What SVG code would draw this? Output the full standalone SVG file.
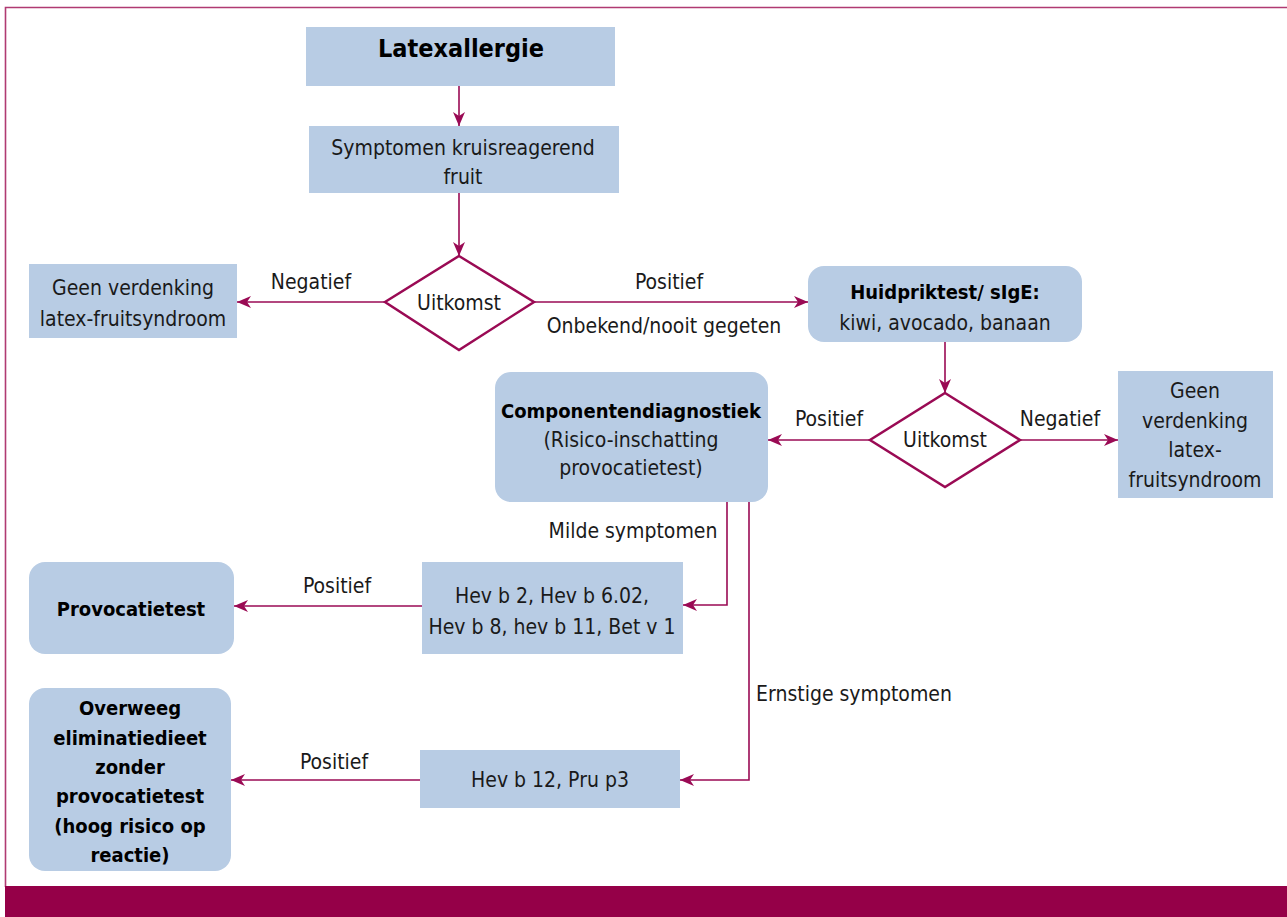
<svg xmlns="http://www.w3.org/2000/svg" width="1287" height="917" viewBox="0 0 1287 917">
<defs>
<marker id="ah" viewBox="0 0 14 12" refX="14" refY="6" markerWidth="14" markerHeight="12" orient="auto" markerUnits="userSpaceOnUse">
<path d="M0,0 L14,6 L0,12 L4,6 z" fill="#9A0A54"/>
</marker>
<style>
.box{fill:#B8CCE4;}
.dia{fill:#fff;stroke:#9A0A54;stroke-width:2.5;}
.t{font-family:"Liberation Sans Narrow","DejaVu Sans Condensed","Liberation Sans",sans-serif;font-size:21px;fill:#1a1a1a;text-anchor:middle;}
.b{font-weight:bold;fill:#000;font-size:20px;}
.l{fill:none;stroke:#9A0A54;stroke-width:1.6;marker-end:url(#ah);}
.lbl{font-family:"Liberation Sans Narrow","DejaVu Sans Condensed","Liberation Sans",sans-serif;font-size:21px;fill:#1a1a1a;text-anchor:middle;}
</style>
</defs>
<rect x="0" y="0" width="1287" height="917" fill="#fff"/>
<path d="M5.5,887 V7.5 H1287" fill="none" stroke="#B03A72" stroke-width="1.6"/>
<rect x="5" y="886" width="1282" height="31" fill="#950048"/>

<g id="connectors">
<path class="l" d="M459,86 V126"/>
<path class="l" d="M459,193 V256"/>
<path class="l" d="M385,302 H237"/>
<path class="l" d="M534,302 H808"/>
<path class="l" d="M945,342 V393"/>
<path class="l" d="M870,440 H768"/>
<path class="l" d="M1020,440 H1118"/>
<path class="l" d="M727,502 V605 H683"/>
<path class="l" d="M749,502 V780 H680"/>
<path class="l" d="M422,606 H234"/>
<path class="l" d="M420,780 H231"/>
<text class="lbl" x="311" y="289">Negatief</text>
<text class="lbl" x="669" y="289">Positief</text>
<text class="lbl" x="664" y="333">Onbekend/nooit gegeten</text>
<text class="lbl" x="829" y="426">Positief</text>
<text class="lbl" x="1060" y="426">Negatief</text>
<text class="lbl" x="633" y="538">Milde symptomen</text>
<text class="lbl" x="854" y="701">Ernstige symptomen</text>
<text class="lbl" x="337" y="593">Positief</text>
<text class="lbl" x="334" y="769">Positief</text>
</g>

<g id="n-latexallergie">
<rect class="box" x="306" y="27" width="309" height="59"/>
<text class="t b" x="461" y="57" style="font-size:25px">Latexallergie</text>
</g>
<g id="n-symptomen">
<rect class="box" x="309" y="126" width="310" height="67"/>
<text class="t" x="463" y="155">Symptomen kruisreagerend</text>
<text class="t" x="463" y="184">fruit</text>
</g>
<g id="n-uitkomst1">
<polygon class="dia" points="459,256 534,302 459,350 385,302"/>
<text class="t" x="459" y="310">Uitkomst</text>
</g>
<g id="n-geen1">
<rect class="box" x="29" y="264" width="208" height="74"/>
<text class="t" x="133" y="295">Geen verdenking</text>
<text class="t" x="133" y="326">latex-fruitsyndroom</text>
</g>
<g id="n-huidpriktest">
<rect class="box" x="808" y="266" width="274" height="76" rx="16"/>
<text class="t b" x="945" y="299">Huidpriktest/ sIgE:</text>
<text class="t" x="945" y="330">kiwi, avocado, banaan</text>
</g>
<g id="n-uitkomst2">
<polygon class="dia" points="945,393 1020,440 945,487 870,440"/>
<text class="t" x="945" y="447">Uitkomst</text>
</g>
<g id="n-geen2">
<rect class="box" x="1118" y="371" width="155" height="127"/>
<text class="t" x="1195" y="398">Geen</text>
<text class="t" x="1195" y="428">verdenking</text>
<text class="t" x="1195" y="457">latex-</text>
<text class="t" x="1195" y="487">fruitsyndroom</text>
</g>
<g id="n-componenten">
<rect class="box" x="495" y="372" width="273" height="130" rx="16"/>
<text class="t b" x="631" y="418">Componentendiagnostiek</text>
<text class="t" x="631" y="447">(Risico-inschatting</text>
<text class="t" x="631" y="475">provocatietest)</text>
</g>
<g id="n-hevb2">
<rect class="box" x="422" y="562" width="261" height="92"/>
<text class="t" x="552" y="603">Hev b 2, Hev b 6.02,</text>
<text class="t" x="552" y="634">Hev b 8, hev b 11, Bet v 1</text>
</g>
<g id="n-provocatietest">
<rect class="box" x="29" y="562" width="205" height="92" rx="16"/>
<text class="t b" x="131" y="616">Provocatietest</text>
</g>
<g id="n-hevb12">
<rect class="box" x="420" y="750" width="260" height="58"/>
<text class="t" x="550" y="787">Hev b 12, Pru p3</text>
</g>
<g id="n-overweeg">
<rect class="box" x="29" y="688" width="202" height="183" rx="16"/>
<text class="t b" x="130" y="715">Overweeg</text>
<text class="t b" x="130" y="745">eliminatiedieet</text>
<text class="t b" x="130" y="774">zonder</text>
<text class="t b" x="130" y="803">provocatietest</text>
<text class="t b" x="130" y="833">(hoog risico op</text>
<text class="t b" x="130" y="862">reactie)</text>
</g>
</svg>
